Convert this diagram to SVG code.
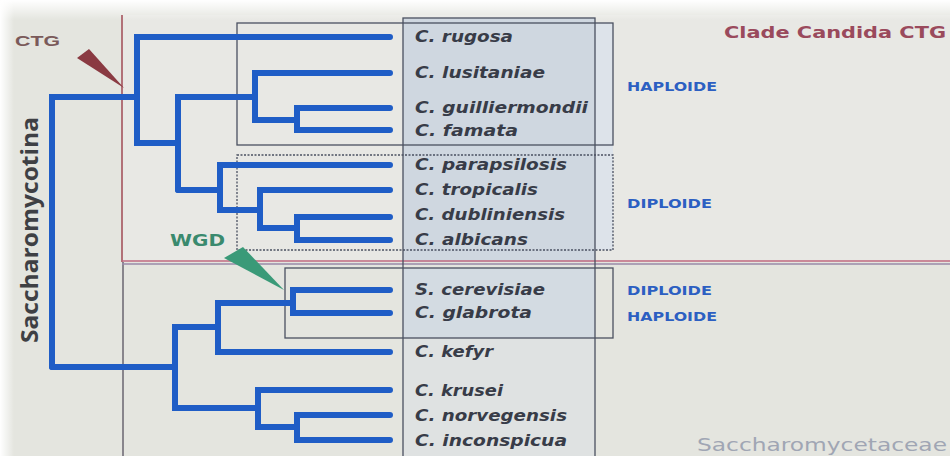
<svg xmlns="http://www.w3.org/2000/svg" width="950" height="456" viewBox="0 0 950 456">
<defs>
<linearGradient id="topfade" x1="0" y1="0" x2="0" y2="1">
<stop offset="0" stop-color="#ffffff"/>
<stop offset="1" stop-color="#ffffff" stop-opacity="0"/>
</linearGradient>
<linearGradient id="leftfade" x1="0" y1="0" x2="1" y2="0">
<stop offset="0" stop-color="#ffffff"/>
<stop offset="1" stop-color="#ffffff" stop-opacity="0"/>
</linearGradient>
<style>
.br{fill:none;stroke:#1f5dc6;stroke-width:6;stroke-linecap:round;stroke-linejoin:miter}
.sp{font-family:"DejaVu Sans","Open Sans",sans-serif;font-style:italic;font-weight:700;font-size:16px;fill:#383c48}
.pl{font-family:"DejaVu Sans","Open Sans",sans-serif;font-weight:700;font-size:13px;fill:#2c5fc2}
.box{fill:none;stroke:#4a5060;stroke-width:1.3}
</style>
</defs>
<rect width="950" height="456" fill="#e4e5df"/>
<rect x="122" y="15" width="828" height="247" fill="#e8e8e4"/>
<rect x="403" y="18" width="192" height="244" fill="#cfd7e0"/>
<rect x="403" y="268" width="192" height="70" fill="#d3dbe2"/>
<rect x="403" y="338" width="192" height="118" fill="#dfe2e2"/>
<rect x="595" y="23" width="18" height="227" fill="#dde3ea"/>
<rect x="0" y="0" width="950" height="20" fill="url(#topfade)"/>
<rect x="0" y="0" width="14" height="456" fill="url(#leftfade)"/>

<g id="frames">
<line x1="122" y1="15" x2="122" y2="262" stroke="#a04a55" stroke-width="1.5"/>
<line x1="123" y1="262" x2="123" y2="456" stroke="#6a6470" stroke-width="1.5"/>
<line x1="122" y1="261" x2="950" y2="261" stroke="#c06a80" stroke-width="1.5"/>
<line x1="122" y1="264" x2="950" y2="264" stroke="#9a8aa8" stroke-width="1.5"/>
<rect class="box" x="403" y="18" width="192" height="450"/>
</g>

<g id="group-haploide">
<rect class="box" x="237" y="23" width="376" height="122" stroke="#505a70"/>
<text class="pl" x="627" y="91" textLength="90" lengthAdjust="spacingAndGlyphs">HAPLOIDE</text>
</g>
<g id="group-diploide">
<rect class="box" x="237" y="155" width="376" height="95" stroke="#505a70" stroke-dasharray="2 1.5"/>
<text class="pl" x="627" y="208" textLength="85" lengthAdjust="spacingAndGlyphs">DIPLOIDE</text>
</g>
<g id="group-wgd">
<rect class="box" x="285" y="268" width="328" height="70" stroke="#5a9a88"/>
<text class="pl" x="627" y="295" textLength="85" lengthAdjust="spacingAndGlyphs">DIPLOIDE</text>
<text class="pl" x="627" y="321" textLength="90" lengthAdjust="spacingAndGlyphs">HAPLOIDE</text>
</g>

<g id="connectors">
<path class="br" d="M52 367 V97 H137"/>
<path class="br" d="M390 37 H137 V143 H178"/>
<path class="br" d="M178 190 V97 H255"/>
<path class="br" d="M390 73 H255 V120 H297"/>
<path class="br" d="M390 108 H297 V130 H390"/>
<path class="br" d="M178 190 H220"/>
<path class="br" d="M390 165 H220 V210 H260"/>
<path class="br" d="M390 190 H260 V228 H297"/>
<path class="br" d="M390 217 H297 V240 H390"/>
<path class="br" d="M52 367 H175"/>
<path class="br" d="M218 327 H175 V408 H258"/>
<path class="br" d="M293 303 H218 V352 H390"/>
<path class="br" d="M390 290 H293 V313 H390"/>
<path class="br" d="M390 390 H258 V427 H297"/>
<path class="br" d="M390 415 H297 V440 H390"/>
</g>

<g id="ctg-marker">
<polygon points="77,58 89,49 124,88" fill="#8a3a42"/>
<text x="15" y="46" textLength="45" lengthAdjust="spacingAndGlyphs" font-family="'Liberation Sans',Arial,sans-serif" font-weight="700" font-size="15" fill="#7a5a5a">CTG</text>
</g>
<g id="wgd-marker">
<polygon points="224,258 243,247 284,290" fill="#3a9a78"/>
<text x="170" y="246" textLength="55" lengthAdjust="spacingAndGlyphs" font-family="'DejaVu Sans',sans-serif" font-weight="700" font-size="15" fill="#3a8a6e">WGD</text>
</g>

<g id="species">
<text class="sp" x="415" y="42" textLength="98" lengthAdjust="spacingAndGlyphs">C. rugosa</text>
<text class="sp" x="415" y="78" textLength="130" lengthAdjust="spacingAndGlyphs">C. lusitaniae</text>
<text class="sp" x="415" y="113" textLength="173" lengthAdjust="spacingAndGlyphs">C. guilliermondii</text>
<text class="sp" x="415" y="136" textLength="103" lengthAdjust="spacingAndGlyphs">C. famata</text>
<text class="sp" x="415" y="170" textLength="152" lengthAdjust="spacingAndGlyphs">C. parapsilosis</text>
<text class="sp" x="415" y="195" textLength="123" lengthAdjust="spacingAndGlyphs">C. tropicalis</text>
<text class="sp" x="415" y="220" textLength="150" lengthAdjust="spacingAndGlyphs">C. dubliniensis</text>
<text class="sp" x="415" y="245" textLength="113" lengthAdjust="spacingAndGlyphs">C. albicans</text>
<text class="sp" x="415" y="295" textLength="130" lengthAdjust="spacingAndGlyphs">S. cerevisiae</text>
<text class="sp" x="415" y="318" textLength="117" lengthAdjust="spacingAndGlyphs">C. glabrota</text>
<text class="sp" x="415" y="357" textLength="78" lengthAdjust="spacingAndGlyphs">C. kefyr</text>
<text class="sp" x="415" y="396" textLength="88" lengthAdjust="spacingAndGlyphs">C. krusei</text>
<text class="sp" x="415" y="421" textLength="152" lengthAdjust="spacingAndGlyphs">C. norvegensis</text>
<text class="sp" x="415" y="446" textLength="152" lengthAdjust="spacingAndGlyphs">C. inconspicua</text>
</g>

<g id="titles">
<text x="724" y="38" textLength="222" lengthAdjust="spacingAndGlyphs" font-family="'DejaVu Sans',sans-serif" font-weight="700" font-size="16" fill="#9a4a5c">Clade Candida CTG</text>
<text x="697" y="451" textLength="250" lengthAdjust="spacingAndGlyphs" font-family="'DejaVu Sans',sans-serif" font-size="17" fill="#a0a6b4">Saccharomycetaceae</text>
<text transform="translate(38 230) rotate(-90)" text-anchor="middle" textLength="226" lengthAdjust="spacingAndGlyphs" font-family="'Open Sans','DejaVu Sans',sans-serif" font-weight="700" font-size="23" fill="#3e4044">Saccharomycotina</text>
</g>
</svg>
